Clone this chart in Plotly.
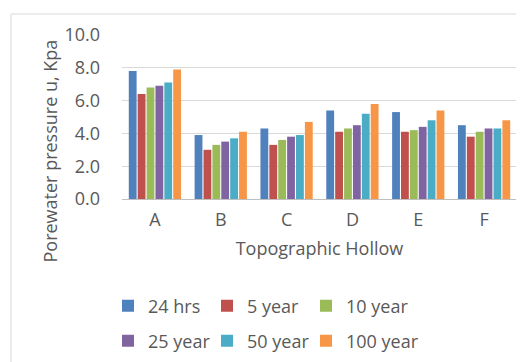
import plotly.graph_objects as go

categories = ["A", "B", "C", "D", "E", "F"]
series_names = ["24 hrs", "5 year", "10 year", "25 year", "50 year", "100 year"]
hrs24 = [7.8, 3.9, 4.3, 5.4, 5.3, 4.5]
year5 = [6.4, 3.0, 3.3, 4.1, 4.1, 3.8]
year10 = [6.8, 3.3, 3.6, 4.3, 4.2, 4.1]
year25 = [6.9, 3.5, 3.8, 4.5, 4.4, 4.3]
year50 = [7.1, 3.7, 3.9, 5.2, 4.8, 4.3]
year100 = [7.9, 4.1, 4.7, 5.8, 5.4, 4.8]
y_ticks = [0, 2, 4, 6, 8, 10]
y_tick_labels = ["0.0", "2.0", "4.0", "6.0", "8.0", "10.0"]

values = [hrs24, year5, year10, year25, year50, year100]
colors = ["#4F81BD", "#C0504D", "#9BBB59", "#8064A2", "#4BACC6", "#F79646"]

FONT = "Open Sans"
TXT = "#595959"
FS = 18

# page body has an 8px margin, so the figure is drawn offset by 8px
OFF = 8
W, H = 524 - OFF, 362 - OFF
L, R, T, B = 122 - OFF, 7, 35 - OFF, 171 - OFF
pw, ph = W - L - R, H - T - B

def px_x(x):
    return (x - OFF - L) / pw

def px_y(y):
    return (H - B - (y - OFF)) / ph

# legend grid: 3 columns x 2 rows (page pixels)
legend_cols = [108, 207, 306]
legend_rows = [306, 341]

legend_common = dict(
    orientation="h", xanchor="left", yanchor="middle",
    font=dict(family=FONT, size=FS, color=TXT),
    bgcolor="rgba(0,0,0,0)", itemclick=False,
)

fig = go.Figure()
legend_layouts = {}
for i, (name, vals, c) in enumerate(zip(series_names, values, colors)):
    key = "legend" if i == 0 else f"legend{i + 1}"
    fig.add_trace(go.Bar(
        x=categories, y=vals, name=name, marker_color=c,
        marker_line_width=0, legend=key,
    ))
    legend_layouts[key] = dict(
        x=px_x(legend_cols[i % 3]), y=px_y(legend_rows[i // 3]), **legend_common
    )

fig.update_layout(
    width=W, height=H,
    margin=dict(l=L, r=R, t=T, b=B, autoexpand=False),
    paper_bgcolor="white", plot_bgcolor="white",
    barmode="group", bargap=0.19, bargroupgap=0.12,
    showlegend=True,
    font=dict(family=FONT, size=FS, color=TXT),
    xaxis=dict(
        showgrid=False, showline=True, linecolor="#BFBFBF", linewidth=1,
        ticks="", tickfont=dict(family=FONT, size=FS, color=TXT),
        ticklabelstandoff=4,
        title=dict(text="Topographic Hollow", font=dict(family=FONT, size=FS, color=TXT), standoff=12),
    ),
    yaxis=dict(
        range=[0, 10], tickvals=y_ticks, ticktext=y_tick_labels,
        showgrid=True, gridcolor="#D9D9D9", gridwidth=1,
        zeroline=False, showline=False, ticks="",
        tickfont=dict(family=FONT, size=FS, color=TXT),
        ticklabelstandoff=21,
    ),
    shapes=[dict(
        type="rect", xref="paper", yref="paper",
        x0=px_x(11), x1=px_x(540), y0=px_y(14), y1=px_y(380),
        line=dict(color="#D9D9D9", width=1), fillcolor="rgba(0,0,0,0)", layer="below",
    )],
    annotations=[dict(
        text="Porewater pressure u, Kpa", textangle=-90,
        xref="paper", yref="paper", x=px_x(49), y=px_y(151.5),
        xanchor="center", yanchor="middle", showarrow=False,
        font=dict(family=FONT, size=FS, color=TXT),
    )],
)
fig.update_layout(**legend_layouts)

fig.write_html("out.html")
